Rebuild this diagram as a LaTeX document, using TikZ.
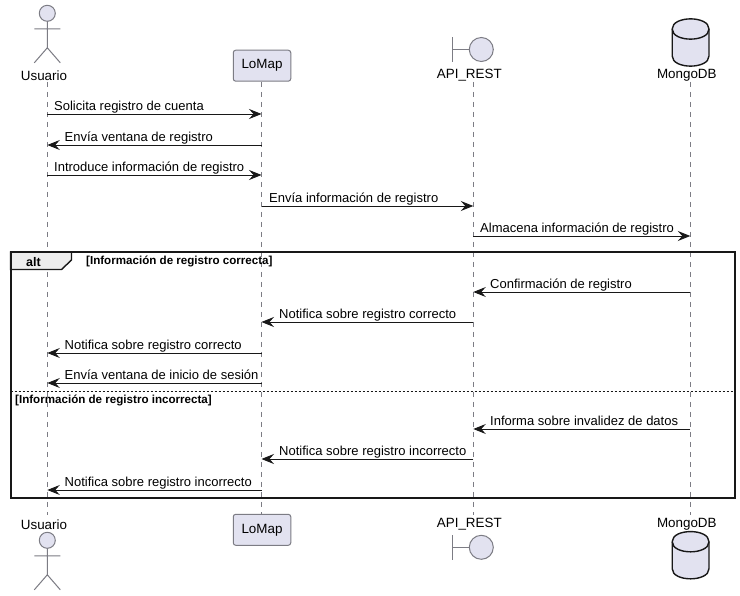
\documentclass[tikz,border=0pt]{standalone}
\usepackage{fontspec}
\setmainfont{Liberation Sans}
\usetikzlibrary{arrows.meta,calc}
\definecolor{partfill}{HTML}{E2E2F0}
\definecolor{partline}{HTML}{7C7C84}
\definecolor{inkdark}{HTML}{181818}
\tikzset{
  lifeline/.style={draw=partline,line width=0.8pt,dash pattern=on 5pt off 5pt},
  msg/.style={draw=inkdark,line width=0.9pt,-{Stealth[length=12.5pt,width=10pt,inset=4.5pt]}},
  msgtext/.style={anchor=base west,inner sep=0pt,font=\fontsize{13}{15}\selectfont,text=black},
  parttext/.style={anchor=center,inner sep=0pt,font=\fontsize{13.4}{16}\selectfont,text=black},
  partbox/.style={draw=partline,fill=partfill,line width=1pt,rounded corners=2.5pt},
  partshape/.style={draw=partline,fill=partfill,line width=1pt},
  stick/.style={draw=partline,line width=1pt},
  dbshape/.style={draw=inkdark,fill=partfill,line width=1.4pt},
  framebox/.style={draw=inkdark,line width=2pt},
  tabshape/.style={draw=inkdark,fill=black!7,line width=1.4pt},
  guard/.style={anchor=base west,inner sep=0pt,font=\fontsize{11.6}{13}\bfseries\selectfont,text=black},
  alttext/.style={anchor=center,inner sep=0pt,font=\fontsize{12.5}{14}\bfseries\selectfont,text=black},
}
\newcommand{\PMsg}[6]{%
  \draw[msg] (#2 |- 0,#4) -- (#3 |- 0,#4);
  \node[msgtext] (#1) at (#5,#4-3.5) {#6};}
\newcommand{\PActor}[2]{%
  \draw[partshape] (#1,#2) circle (8);
  \draw[stick] (#1,#2+8) -- (#1,#2+34.5)
    (#1-13,#2+15.5) -- (#1+13,#2+15.5)
    (#1-13,#2+49.5) -- (#1,#2+34.5) -- (#1+13,#2+49.5);}
\newcommand{\PBoundary}[2]{%
  \draw[stick] (452.3,#2-12.2) -- (452.3,#2+12.2) (452.3,#2) -- (469.3,#2);
  \draw[partshape] (#1,#2) circle (12);}
\newcommand{\PDatabase}[2]{%
  \draw[dbshape] (#1-18.4,#2+10)
    .. controls (#1-18.4,#2-3.5) and (#1+18.4,#2-3.5) .. (#1+18.4,#2+10)
    -- (#1+18.4,#2+37)
    .. controls (#1+18.4,#2+50.5) and (#1-18.4,#2+50.5) .. (#1-18.4,#2+37) -- cycle;
  \draw[dbshape,fill=none] (#1-18.4,#2+10)
    .. controls (#1-18.4,#2+23.5) and (#1+18.4,#2+23.5) .. (#1+18.4,#2+10);}
\begin{document}
\begin{tikzpicture}[x=1pt,y=-1pt]
\useasboundingbox (0,0) rectangle (740,596);
\fill[white] (0,0) rectangle (740,596);
% lifeline ends
\coordinate (uT) at (47.3,82);   \coordinate (uB) at (47.3,515);
\coordinate (lT) at (261.5,82);  \coordinate (lB) at (261.5,515);
\coordinate (aT) at (473.3,82);  \coordinate (aB) at (473.3,515);
\coordinate (mT) at (690.3,82);  \coordinate (mB) at (690.3,515);
\foreach \a/\b in {uT/uB,lT/lB,aT/aB,mT/mB} \draw[lifeline] (\a) -- (\b);
% participants, top
\PActor{47.3}{13.3}
\node[parttext] (usuarioTop) at (44,75.5) {Usuario};
\node[partbox,minimum width=57.5pt,minimum height=31pt,inner sep=0pt,font=\fontsize{13.4}{16}\selectfont] (lomapTop) at (262,65.7) {LoMap};
\PBoundary{481.3}{49.5}
\node[parttext] (apiTop) at (469.3,75.5) {API\_REST};
\PDatabase{690.6}{19}
\node[parttext] (mongoTop) at (686.8,75.5) {MongoDB};
% participants, bottom
\node[parttext] (usuarioBot) at (44,524.5) {Usuario};
\PActor{47.3}{540.3}
\node[partbox,minimum width=57.5pt,minimum height=31pt,inner sep=0pt,font=\fontsize{13.4}{16}\selectfont] (lomapBot) at (262,529.8) {LoMap};
\node[parttext] (apiBot) at (469.3,524.5) {API\_REST};
\PBoundary{481.3}{547.3}
\node[parttext] (mongoBot) at (686.8,524.5) {MongoDB};
\PDatabase{690.6}{531.7}
% alt frame
\draw[tabshape] (10.5,252) -- (71.5,252) -- (71.5,260) -- (61.5,269.5) -- (10.5,269.5) -- cycle;
\draw[framebox] (10.5,252) rectangle (735,498);
\node[alttext] (altLabel) at (33.5,262) {alt};
\node[guard] (guardA) at (86,265) {[Información de registro correcta]};
\draw[draw=inkdark,line width=0.9pt,dash pattern=on 2pt off 2pt] (10.5,391.5) -- (735,391.5);
\node[guard] (guardB) at (15,403.5) {[Información de registro incorrecta]};
% messages
\PMsg{m1}{uT}{lT}{114}{54}{Solicita registro de cuenta}
\PMsg{m2}{lT}{uT}{145}{64.5}{Envía ventana de registro}
\PMsg{m3}{uT}{lT}{175}{54}{Introduce información de registro}
\PMsg{m4}{lT}{aT}{206}{269}{Envía información de registro}
\PMsg{m5}{aT}{mT}{236}{480}{Almacena información de registro}
\PMsg{m6}{mT}{aT}{292}{490}{Confirmación de registro}
\PMsg{m7}{aT}{lT}{322}{279}{Notifica sobre registro correcto}
\PMsg{m8}{lT}{uT}{353}{64.5}{Notifica sobre registro correcto}
\PMsg{m9}{lT}{uT}{383}{64.5}{Envía ventana de inicio de sesión}
\PMsg{m10}{mT}{aT}{429}{490}{Informa sobre invalidez de datos}
\PMsg{m11}{aT}{lT}{459}{279}{Notifica sobre registro incorrecto}
\PMsg{m12}{lT}{uT}{490}{64.5}{Notifica sobre registro incorrecto}
\end{tikzpicture}
\end{document}
